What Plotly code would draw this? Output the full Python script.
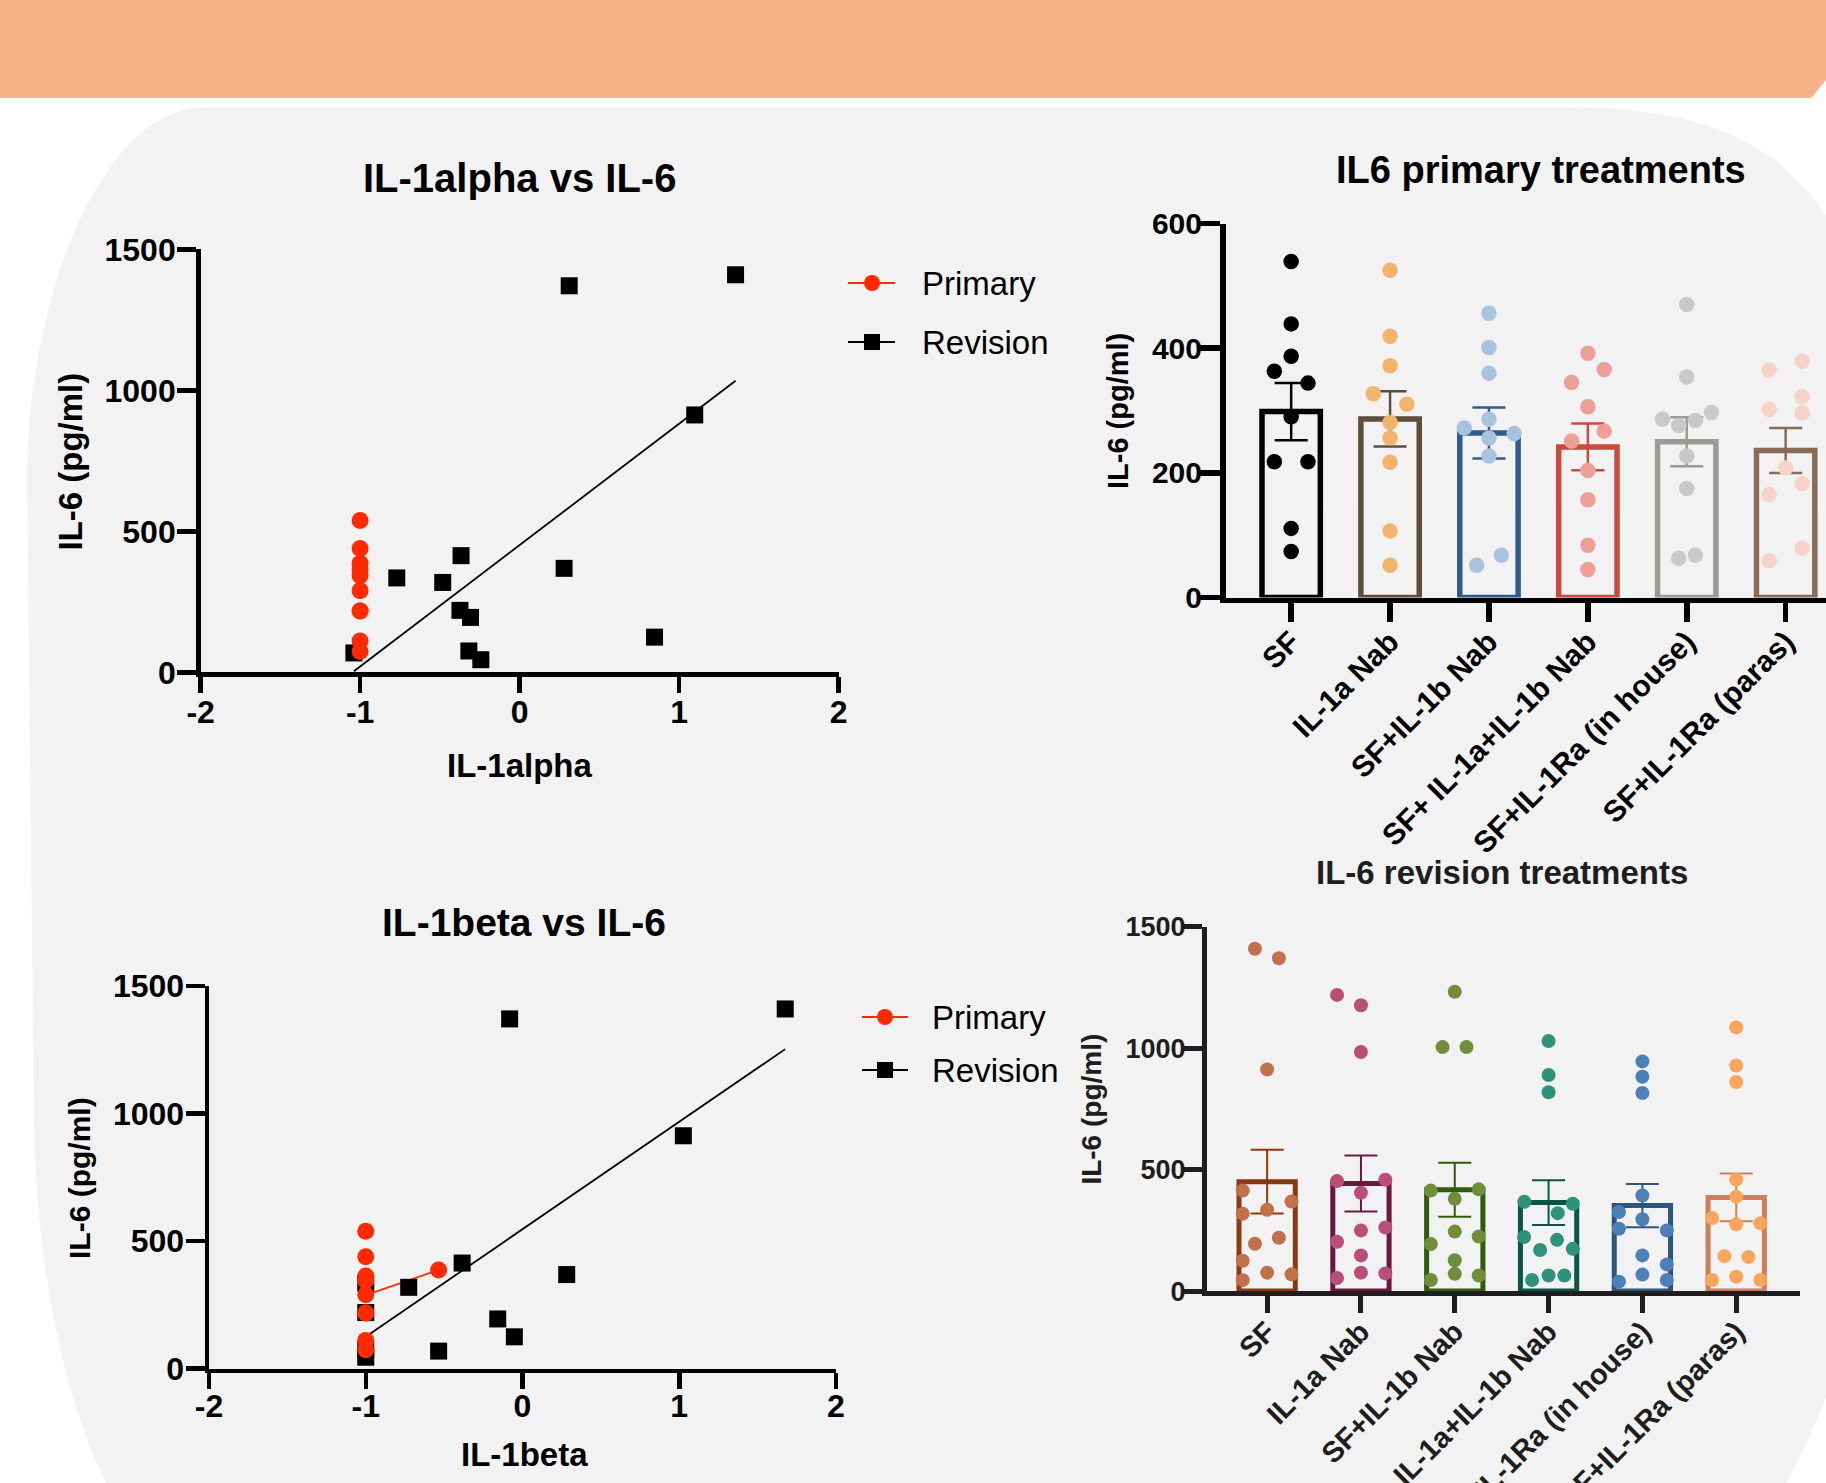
import numpy as np
import plotly.graph_objects as go

W, H = 1826, 1483
FONT = "Liberation Sans, Arial, Helvetica, sans-serif"

# ------------------------------------------------------------------ data
treatments = ["SF", "IL-1a Nab", "SF+IL-1b Nab", "SF+ IL-1a+IL-1b Nab",
              "SF+IL-1Ra (in house)", "SF+IL-1Ra (paras)"]

# IL-6 (pg/ml), primary samples, per treatment
prim_sf      = [539, 439, 387, 363, 344, 290, 218, 218, 111, 74]
prim_il1a    = [525, 419, 372, 327, 310, 281, 256, 217, 107, 52]
prim_il1b    = [456, 401, 360, 272, 286, 263, 256, 227, 68, 52]
prim_both    = [392, 366, 345, 306, 267, 251, 204, 157, 84, 45]
prim_inhouse = [470, 354, 286, 297, 276, 284, 227, 175, 63, 68]
prim_paras   = [365, 379, 322, 302, 296, 208, 183, 165, 79, 59]

# IL-6 (pg/ml), revision samples, per treatment
rev_sf      = [1410, 1371, 913, 414, 369, 335, 319, 220, 195, 125, 76, 69, 45]
rev_il1a    = [1220, 1177, 985, 453, 459, 405, 262, 250, 203, 147, 76, 54, 73]
rev_il1b    = [1233, 1005, 1005, 414, 419, 380, 245, 194, 225, 127, 71, 46, 64]
rev_both    = [1030, 890, 819, 368, 360, 321, 223, 211, 169, 174, 64, 64, 46]
rev_inhouse = [946, 883, 816, 394, 326, 296, 257, 250, 147, 110, 68, 46, 39]
rev_paras   = [1086, 929, 861, 459, 389, 301, 275, 279, 144, 140, 59, 46, 46]

# log IL-1 levels paired with the SF IL-6 values above
il1a_primary  = [-1, -1, -1, -1, -1, -1, -1, -1, -1, -1]
il1b_primary  = [-1, -1, -0.535, -1, -1, -1, -1, -1, -1, -1]
il1a_revision = [1.354, 0.311, 1.098, -0.367, 0.279, -0.770, -0.482, -0.374,
                 -0.308, 0.846, -0.318, -1.039, -0.243]
il1b_revision = [1.676, -0.082, 1.026, -0.385, 0.282, -1, -0.726, -1,
                 -0.158, -0.052, -1, -0.535, -1]

scatter_xticks = [-2, -1, 0, 1, 2]
scatter_xticktext = ["-2", "-1", "0", "1", "2"]
scatter_yticks = [0, 500, 1000, 1500]
primary_yticks = [0, 200, 400, 600]
revision_yticks = [0, 500, 1000, 1500]

# ------------------------------------------------------------------ styling (positions / colours)
primary_jitter = [
    [0, 0, 0, -0.17, 0.17, 0, -0.17, 0.17, 0, 0],
    [0, 0, 0, -0.17, 0.17, 0, 0, 0, 0, 0],
    [0, 0, 0, -0.25, 0, 0.255, 0, 0, 0.125, -0.125],
    [0, 0.165, -0.165, 0, 0.165, -0.165, 0, 0, 0, 0],
    [0, 0, -0.246, 0.25, -0.082, 0.087, 0, 0, -0.082, 0.087],
    [-0.167, 0.167, 0.167, -0.167, 0.167, 0, 0.167, -0.167, 0.167, -0.167],
]
revision_jitter = [
    [-0.13, 0.125, 0, -0.26, 0.26, 0, -0.26, 0.125, -0.13, -0.26, 0, 0.26, -0.26],
    [-0.255, 0, 0, -0.255, 0.26, 0, 0.26, 0, -0.255, 0, 0, -0.255, 0.26],
    [0, -0.13, 0.125, -0.255, 0.255, 0, 0, -0.255, 0.255, 0, 0, -0.255, 0.255],
    [0, 0, 0, -0.258, 0.258, 0.098, -0.261, 0.09, -0.09, 0.258, 0, 0.168, -0.176],
    [0, 0, 0, 0, -0.25, 0, -0.25, 0.26, 0, 0.26, 0, 0.26, -0.25],
    [0, 0, 0, 0, 0, -0.257, 0, 0.258, -0.126, 0.13, 0, -0.257, 0.258],
]
prim_bar_colors = ["#000000", "#5e4e3b", "#2e5b8a", "#c84b40", "#9b9a94", "#8a6a58"]
prim_dot_colors = ["#000000", "#f0b46c", "#a9c3df", "#eca098", "#c9c9cc", "#f6d3c6"]
rev_bar_colors = ["#8a3a10", "#6a1a3e", "#315a0c", "#0c5544", "#2d5583", "#cd7e5a"]
rev_dot_colors = ["#c1704c", "#b94f78", "#6f8e3b", "#2e937a", "#4e80b8", "#f9a55c"]
RED = "#ff2a00"

primary_values = [prim_sf, prim_il1a, prim_il1b, prim_both, prim_inhouse, prim_paras]
revision_values = [rev_sf, rev_il1a, rev_il1b, rev_both, rev_inhouse, rev_paras]


def PX(x):
    return x / W


def PY(y):
    return 1 - y / H


fig = go.Figure()

# ------------------------------------------------------------------ scatter panels
def add_scatter_panel(xa, ya, x_prim, x_rev, size):
    for xs, ys, col in ((x_rev, rev_sf, "black"), (x_prim, prim_sf, RED)):
        xs_a = np.array(xs, float)
        ys_a = np.array(ys, float)
        if np.ptp(xs_a) > 0:
            k, b = np.polyfit(xs_a, ys_a, 1)
            xl = np.array([xs_a.min(), xs_a.max()])
            fig.add_trace(go.Scatter(x=xl, y=k * xl + b, mode="lines",
                                     line=dict(color=col, width=1.8),
                                     xaxis=xa, yaxis=ya, showlegend=False,
                                     hoverinfo="skip"))
    fig.add_trace(go.Scatter(x=x_rev, y=rev_sf, mode="markers", name="Revision",
                             marker=dict(symbol="square", size=size, color="black"),
                             xaxis=xa, yaxis=ya, showlegend=False, cliponaxis=False))
    fig.add_trace(go.Scatter(x=x_prim, y=prim_sf, mode="markers", name="Primary",
                             marker=dict(symbol="circle", size=size, color=RED),
                             xaxis=xa, yaxis=ya, showlegend=False, cliponaxis=False))


add_scatter_panel("x", "y", il1a_primary, il1a_revision, 17)
add_scatter_panel("x3", "y3", il1b_primary, il1b_revision, 17)

# ------------------------------------------------------------------ bar panels
def add_bar_panel(xa, ya, values, jitter, bar_cols, dot_cols, bw, lw, dot_size, ethick):
    for i, vals in enumerate(values):
        v = np.array(vals, float)
        mean = v.mean()
        sem = v.std(ddof=1) / np.sqrt(len(v))
        fig.add_trace(go.Bar(x=[i], y=[mean], width=bw, xaxis=xa, yaxis=ya,
                             marker=dict(color="rgba(0,0,0,0)",
                                         line=dict(color=bar_cols[i], width=lw)),
                             error_y=dict(type="data", array=[sem], visible=True,
                                          color=bar_cols[i], thickness=ethick, width=16.5),
                             showlegend=False, hoverinfo="skip"))
    for i, vals in enumerate(values):
        fig.add_trace(go.Scatter(x=i + np.array(jitter[i]), y=vals, mode="markers",
                                 marker=dict(size=dot_size, color=dot_cols[i]),
                                 xaxis=xa, yaxis=ya, showlegend=False, cliponaxis=False))


add_bar_panel("x2", "y2", primary_values, primary_jitter, prim_bar_colors,
              prim_dot_colors, 0.59, 5.5, 15.5, 2.5)
add_bar_panel("x4", "y4", revision_values, revision_jitter, rev_bar_colors,
              rev_dot_colors, 0.6, 5, 14, 2)

# ------------------------------------------------------------------ axes
def axis(domain, rng, tickvals, ticktext=None, size=30, lw=4.5, tlen=17,
         color="black", angle=0, anchor=None, standoff=0):
    d = dict(domain=domain, range=rng, tickvals=tickvals, showline=True,
             linewidth=lw, linecolor=color, ticks="outside", ticklen=tlen,
             tickwidth=lw, tickcolor=color, showgrid=False, zeroline=False,
             tickfont=dict(family=FONT, size=size, color=color, weight="bold"),
             fixedrange=True, tickangle=angle, automargin=False,
             ticklabelstandoff=standoff)
    if ticktext is not None:
        d["ticktext"] = ticktext
    if anchor:
        d["anchor"] = anchor
    return d


cats = list(range(len(treatments)))
fig.update_layout(
    xaxis=axis([PX(200.6), PX(838.6)], [-2, 2], scatter_xticks, scatter_xticktext,
               size=32, tlen=16, anchor="y", standoff=-8),
    yaxis=axis([PY(672.4), PY(249.4)], [0, 1500], scatter_yticks, size=32, tlen=19,
               anchor="x", standoff=-5),
    xaxis3=axis([PX(209), PX(836)], [-2, 2], scatter_xticks, scatter_xticktext,
                size=32, tlen=16, anchor="y3", standoff=-11),
    yaxis3=axis([PY(1368.7), PY(986)], [0, 1500], scatter_yticks, size=32, tlen=19,
                anchor="x3", standoff=-5),
    xaxis2=axis([PX(1225.5), 1.0], [-0.664, 5.408], cats, treatments, size=30, lw=5.5,
                tlen=19, angle=-45, anchor="y2", standoff=-10),
    yaxis2=axis([PY(597.6), PY(223.5)], [0, 600], primary_yticks, size=30, lw=5.5,
                tlen=20, anchor="x2", standoff=-8),
    xaxis4=axis([PX(1207), PX(1800)], [-0.641, 5.68], cats, treatments, size=29, lw=5,
                tlen=17, color="#1e1e1e", angle=-45, anchor="y4", standoff=-10),
    yaxis4=axis([PY(1291.1), PY(926.9)], [0, 1500], revision_yticks, size=27, lw=5,
                tlen=18, color="#1e1e1e", anchor="x4", standoff=-7),
)

# ------------------------------------------------------------------ background shapes
def path(cmds):
    out = []
    for c in cmds:
        if isinstance(c, str):
            out.append(c)
        else:
            out.append(f"{PX(c[0]):.5f},{PY(c[1]):.5f}")
    return " ".join(out)


panel = path(["M", (27, 480), "L", (34, 1120), "C", (36, 1280), (70, 1420), (115, 1500),
              "L", (1770, 1510), "Q", (1810, 1450), (1850, 1330), "L", (1850, 260),
              "C", (1800, 150), (1720, 107), (1560, 107), "L", (207, 107),
              "C", (100, 107), (27, 300), (27, 480), "Z"])
banner = path(["M", (-5, -5), "L", (1897, -5), "L", (1811, 98), "L", (-5, 98), "Z"])

shapes = [
    dict(type="path", path=banner, xref="paper", yref="paper", layer="below",
         fillcolor="#f5b287", line=dict(width=0)),
    dict(type="path", path=panel, xref="paper", yref="paper", layer="below",
         fillcolor="#f2f2f2", line=dict(width=0)),
]


def ann(text, x, y, size, bold=True, angle=0, xanchor="center", color="black"):
    return dict(text=text, x=PX(x), y=PY(y), xref="paper", yref="paper",
                xanchor=xanchor, yanchor="middle", showarrow=False, textangle=angle,
                font=dict(family=FONT, size=size, color=color,
                          weight="bold" if bold else "normal"))


# legends (drawn as shapes + text)
def legend(x0, x1, xm, yp, yr, xt, ms):
    r = ms / 2
    shapes.extend([
        dict(type="line", xref="paper", yref="paper", x0=PX(x0), x1=PX(x1), y0=PY(yp), y1=PY(yp),
             line=dict(color=RED, width=2)),
        dict(type="circle", xref="paper", yref="paper", x0=PX(xm - r), x1=PX(xm + r),
             y0=PY(yp + r), y1=PY(yp - r), fillcolor=RED, line=dict(width=0)),
        dict(type="line", xref="paper", yref="paper", x0=PX(x0), x1=PX(x1), y0=PY(yr), y1=PY(yr),
             line=dict(color="black", width=2)),
        dict(type="rect", xref="paper", yref="paper", x0=PX(xm - r), x1=PX(xm + r),
             y0=PY(yr + r), y1=PY(yr - r), fillcolor="black", line=dict(width=0)),
    ])
    return [ann("Primary", xt, yp, 33, bold=False, xanchor="left"),
            ann("Revision", xt, yr, 33, bold=False, xanchor="left")]


annotations = [
    ann("IL-1alpha vs IL-6", 519.6, 178, 40),
    ann("IL-1alpha", 519.6, 765, 33),
    ann("IL-6 (pg/ml)", 71, 461.6, 33, angle=-90),
    ann("IL6 primary treatments", 1540.5, 170, 38),
    ann("IL-6 (pg/ml)", 1118, 411, 29, angle=-90),
    ann("IL-1beta vs IL-6", 524, 922, 39),
    ann("IL-1beta", 524, 1454, 33),
    ann("IL-6 (pg/ml)", 79, 1178, 30, angle=-90),
    ann("IL-6 revision treatments", 1502, 872, 33, color="#1e1e1e"),
    ann("IL-6 (pg/ml)", 1092, 1109.6, 28, angle=-90, color="#1e1e1e"),
]
annotations += legend(848, 895, 872, 283, 342, 920, 16)
annotations += legend(862, 908, 885, 1017, 1070, 930, 16)

fig.update_layout(
    width=W, height=H, margin=dict(l=0, r=0, t=0, b=0, pad=0, autoexpand=False),
    paper_bgcolor="white", plot_bgcolor="rgba(0,0,0,0)",
    barmode="overlay", showlegend=False,
    shapes=shapes, annotations=annotations,
    font=dict(family=FONT, color="black"),
)

fig.write_html(
    "out.html",
    config={"displayModeBar": False, "staticPlot": True},
    post_script="document.body.style.margin='0';"
                "document.documentElement.style.overflow='hidden';"
                "document.body.style.overflow='hidden';",
)
